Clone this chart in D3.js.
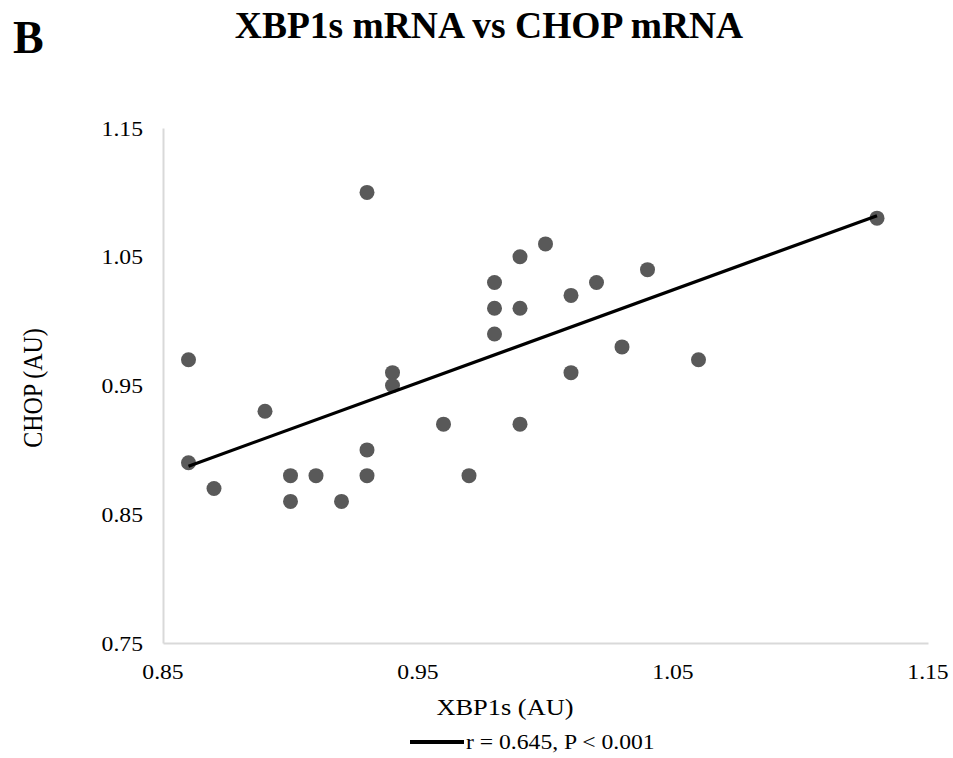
<!DOCTYPE html>
<html lang="en">
  <head>
    <meta charset="utf-8">
    <title>XBP1s mRNA vs CHOP mRNA</title>
    <style>
    body {
        margin: 0;
        background: #fff;
    }
    svg text {
        font-family: "Liberation Serif", "Times New Roman", serif;
        fill: #000;
    }
    .tick-label {
        font-size: 21.5px;
    }
    .axis-title {
        font-size: 24px;
    }
    </style>
  </head>
  <body>
    <div id="chart"></div>

    <script src="https://d3js.org/d3.v7.min.js"></script>
    <script>
    (function(d3) {
        'use strict';

        // XBP1s (x) and CHOP (y), one entry per sample
        var xbp1s = [0.86, 0.86, 0.87, 0.89, 0.90, 0.90, 0.91, 0.92, 0.93, 0.93,
                     0.93, 0.94, 0.94, 0.96, 0.97, 0.98, 0.98, 0.98, 0.99, 0.99,
                     0.99, 1.00, 1.01, 1.01, 1.02, 1.03, 1.04, 1.06, 1.13];
        var chop   = [0.97, 0.89, 0.87, 0.93, 0.88, 0.86, 0.88, 0.86, 1.10, 0.90,
                     0.88, 0.96, 0.95, 0.92, 0.88, 1.03, 1.01, 0.99, 1.05, 1.01,
                     0.92, 1.06, 1.02, 0.96, 1.03, 0.98, 1.04, 0.97, 1.08];

        var xTicks = [0.85, 0.95, 1.05, 1.15];
        var yTicks = [0.75, 0.85, 0.95, 1.05, 1.15];
        var legendLabel = 'r = 0.645, P < 0.001';

        var width = 953;
        var height = 758;
        var stretch = 1.1; // the picture's text is a little wide

        var svg = d3.select('#chart')
            .append('svg')
            .attr('width', width)
            .attr('height', height);

        var x = d3.scaleLinear().domain([0.85, 1.15]).range([163, 928]);
        var y = d3.scaleLinear().domain([0.75, 1.15]).range([643, 128]);

        var fmt = d3.format('.2f');

        function place(px, py) {
            return 'translate(' + px + ',' + py + ') scale(' + stretch + ',1)';
        }

        // axis lines (no ticks, light grey like Excel)
        svg.append('g')
            .attr('transform', 'translate(0,' + y(0.75) + ')')
            .call(d3.axisBottom(x).tickValues(xTicks).tickSize(0).tickFormat(''))
            .call(function(g) {
                g.select('.domain').attr('stroke', '#d9d9d9').attr('stroke-width', 2);
            });

        svg.append('g')
            .attr('transform', 'translate(' + x(0.85) + ',0)')
            .call(d3.axisLeft(y).tickValues(yTicks).tickSize(0).tickFormat(''))
            .call(function(g) {
                g.select('.domain').attr('stroke', '#d9d9d9').attr('stroke-width', 2);
            });

        // tick labels
        svg.selectAll('.xlab')
            .data(xTicks)
            .enter()
            .append('text')
            .attr('class', 'tick-label')
            .attr('transform', function(d) { return place(x(d), 679); })
            .attr('text-anchor', 'middle')
            .text(fmt);

        svg.selectAll('.ylab')
            .data(yTicks)
            .enter()
            .append('text')
            .attr('class', 'tick-label')
            .attr('transform', function(d) { return place(143, y(d) + 7.5); })
            .attr('text-anchor', 'end')
            .text(fmt);

        // least squares trendline
        var mx = d3.mean(xbp1s), my = d3.mean(chop);
        var sxy = d3.sum(xbp1s, function(v, i) { return (v - mx) * (chop[i] - my); });
        var sxx = d3.sum(xbp1s, function(v) { return (v - mx) * (v - mx); });
        var slope = sxy / sxx;
        var icpt = my - slope * mx;
        var ext = d3.extent(xbp1s);

        svg.selectAll('circle')
            .data(xbp1s)
            .enter()
            .append('circle')
            .attr('cx', function(d) { return x(d); })
            .attr('cy', function(d, i) { return y(chop[i]); })
            .attr('r', 7.5)
            .attr('fill', '#595959');

        svg.append('line')
            .attr('x1', x(ext[0]))
            .attr('y1', y(icpt + slope * ext[0]))
            .attr('x2', x(ext[1]))
            .attr('y2', y(icpt + slope * ext[1]))
            .attr('stroke', '#000')
            .attr('stroke-width', 3.2);

        // titles
        svg.append('text')
            .attr('x', 13)
            .attr('y', 53)
            .style('font-size', '46px')
            .style('font-weight', 'bold')
            .text('B');

        svg.append('text')
            .attr('x', 489)
            .attr('y', 38)
            .attr('text-anchor', 'middle')
            .style('font-size', '37.5px')
            .style('font-weight', 'bold')
            .text('XBP1s mRNA vs CHOP mRNA');

        svg.append('text')
            .attr('class', 'axis-title')
            .attr('transform', place(505, 715))
            .attr('text-anchor', 'middle')
            .text('XBP1s (AU)');

        svg.append('text')
            .attr('class', 'axis-title')
            .attr('transform', place(42, 388) + ' rotate(-90)')
            .attr('text-anchor', 'middle')
            .text('CHOP (AU)');

        // legend
        var legend = svg.append('g')
            .attr('transform', 'translate(410,742)');

        legend.append('line')
            .attr('x1', 0)
            .attr('x2', 54)
            .attr('stroke', '#000')
            .attr('stroke-width', 4);

        legend.append('text')
            .attr('class', 'tick-label')
            .attr('transform', place(56, 7))
            .text(legendLabel);

    })(window.d3);
    </script>
  </body>
</html>
